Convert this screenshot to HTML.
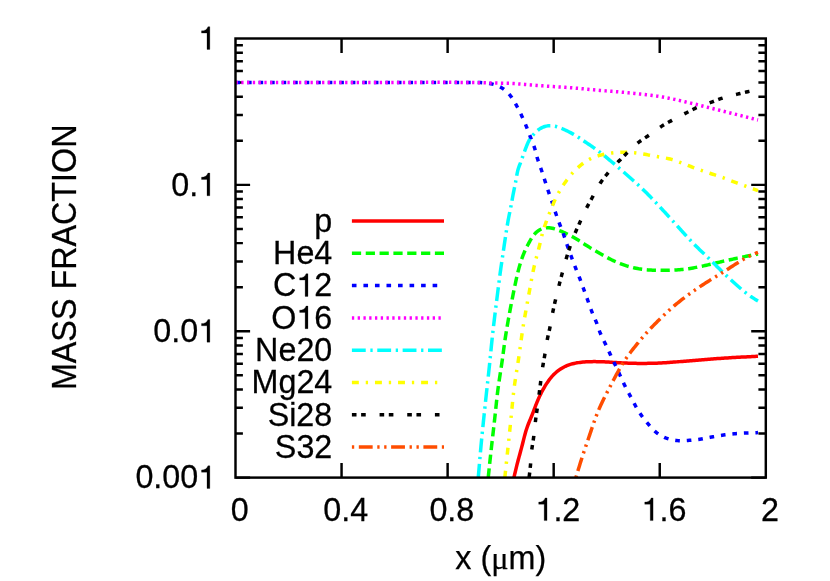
<!DOCTYPE html>
<html><head><meta charset="utf-8"><title>Mass fraction</title>
<style>html,body{margin:0;padding:0;background:#fff;}svg{display:block;font-family:"Liberation Sans",sans-serif;will-change:transform;}text{font-family:"Liberation Sans",sans-serif;font-size:32.30px;fill:#000;stroke:#000;stroke-width:0.25px;}.h{fill:none;stroke:none;}.mu{font-family:"Liberation Serif",serif;}.one{fill:#000;stroke:#000;stroke-width:0.0077;stroke-linejoin:miter;}</style>
</head><body>
<svg width="830" height="581" viewBox="0 0 830 581">
<rect x="0" y="0" width="830" height="581" fill="#ffffff"/>
<defs><clipPath id="pc"><rect x="235.5" y="38.5" width="530.30" height="439.10"/></clipPath></defs>
<path d="M341.56,477.6 v-14.6 M341.56,38.5 v14.6 M447.62,477.6 v-14.6 M447.62,38.5 v14.6 M553.68,477.6 v-14.6 M553.68,38.5 v14.6 M659.74,477.6 v-14.6 M659.74,38.5 v14.6 M235.5,184.87 h14.6 M765.8,184.87 h-14.6 M235.5,140.81 h7.4 M765.8,140.81 h-7.4 M235.5,115.03 h7.4 M765.8,115.03 h-7.4 M235.5,96.75 h7.4 M765.8,96.75 h-7.4 M235.5,82.56 h7.4 M765.8,82.56 h-7.4 M235.5,70.97 h7.4 M765.8,70.97 h-7.4 M235.5,61.17 h7.4 M765.8,61.17 h-7.4 M235.5,52.68 h7.4 M765.8,52.68 h-7.4 M235.5,45.20 h7.4 M765.8,45.20 h-7.4 M235.5,331.23 h14.6 M765.8,331.23 h-14.6 M235.5,287.17 h7.4 M765.8,287.17 h-7.4 M235.5,261.40 h7.4 M765.8,261.40 h-7.4 M235.5,243.11 h7.4 M765.8,243.11 h-7.4 M235.5,228.93 h7.4 M765.8,228.93 h-7.4 M235.5,217.34 h7.4 M765.8,217.34 h-7.4 M235.5,207.54 h7.4 M765.8,207.54 h-7.4 M235.5,199.05 h7.4 M765.8,199.05 h-7.4 M235.5,191.56 h7.4 M765.8,191.56 h-7.4 M235.5,477.60 h14.6 M765.8,477.60 h-14.6 M235.5,433.54 h7.4 M765.8,433.54 h-7.4 M235.5,407.77 h7.4 M765.8,407.77 h-7.4 M235.5,389.48 h7.4 M765.8,389.48 h-7.4 M235.5,375.29 h7.4 M765.8,375.29 h-7.4 M235.5,363.70 h7.4 M765.8,363.70 h-7.4 M235.5,353.91 h7.4 M765.8,353.91 h-7.4 M235.5,345.42 h7.4 M765.8,345.42 h-7.4 M235.5,337.93 h7.4 M765.8,337.93 h-7.4" stroke="#000" stroke-width="2.45" fill="none"/>
<text id="t1" x="216.2" y="49.40" text-anchor="end" transform="matrix(1 0 0 1.022 0 -1.087)"><tspan class="h">1</tspan></text><path class="one" transform="translate(198.24,49.40) scale(32.3,-32.3)" d="M.359,0H.271V.505H.101V.575C.195,.577 .270,.610 .301,.703H.359Z"/>
<text id="t2" x="216.2" y="195.77" text-anchor="end" transform="matrix(1 0 0 1.022 0 -4.307)">0.<tspan class="h">1</tspan></text><path class="one" transform="translate(198.24,195.77) scale(32.3,-32.3)" d="M.359,0H.271V.505H.101V.575C.195,.577 .270,.610 .301,.703H.359Z"/>
<text id="t3" x="216.2" y="342.13" text-anchor="end" transform="matrix(1 0 0 1.022 0 -7.527)">0.0<tspan class="h">1</tspan></text><path class="one" transform="translate(198.24,342.13) scale(32.3,-32.3)" d="M.359,0H.271V.505H.101V.575C.195,.577 .270,.610 .301,.703H.359Z"/>
<text id="t4" x="216.2" y="488.50" text-anchor="end" transform="matrix(1 0 0 1.022 0 -10.747)">0.00<tspan class="h">1</tspan></text><path class="one" transform="translate(198.24,488.50) scale(32.3,-32.3)" d="M.359,0H.271V.505H.101V.575C.195,.577 .270,.610 .301,.703H.359Z"/>
<text id="t5" x="239.70" y="520.6" text-anchor="middle" transform="matrix(1 0 0 1.022 0 -11.453)">0</text>
<text id="t6" x="345.76" y="520.6" text-anchor="middle" transform="matrix(1 0 0 1.022 0 -11.453)">0.4</text>
<text id="t7" x="451.82" y="520.6" text-anchor="middle" transform="matrix(1 0 0 1.022 0 -11.453)">0.8</text>
<text id="t8" x="557.88" y="520.6" text-anchor="middle" transform="matrix(1 0 0 1.022 0 -11.453)"><tspan class="h">1</tspan>.2</text><path class="one" transform="translate(535.43,520.60) scale(32.3,-32.3)" d="M.359,0H.271V.505H.101V.575C.195,.577 .270,.610 .301,.703H.359Z"/>
<text id="t9" x="663.94" y="520.6" text-anchor="middle" transform="matrix(1 0 0 1.022 0 -11.453)"><tspan class="h">1</tspan>.6</text><path class="one" transform="translate(641.49,520.60) scale(32.3,-32.3)" d="M.359,0H.271V.505H.101V.575C.195,.577 .270,.610 .301,.703H.359Z"/>
<text id="t10" x="770.00" y="520.6" text-anchor="middle" transform="matrix(1 0 0 1.022 0 -11.453)">2</text>
<text x="500.8" y="568.7" text-anchor="middle">x (<tspan class="mu">μ</tspan>m)</text>
<text transform="translate(75.9,257.3) rotate(-90) scale(1,1.063)" text-anchor="middle">MASS FRACTION</text>
<g clip-path="url(#pc)" fill="none" stroke-linecap="butt" stroke-linejoin="round">
<path d="M513.93,477.60 L514.03,477.17 L514.37,475.69 L514.71,474.22 L515.06,472.75 L515.40,471.28 L515.75,469.81 L516.11,468.34 L516.47,466.87 L516.83,465.41 L517.20,463.94 L517.58,462.48 L517.96,461.02 L518.35,459.56 L518.74,458.10 L519.13,456.64 L519.53,455.19 L519.93,453.73 L520.33,452.27 L520.72,450.81 L521.12,449.35 L521.51,447.89 L521.89,446.43 L522.27,444.96 L522.64,443.50 L523.01,442.03 L523.37,440.56 L523.74,439.09 L524.12,437.63 L524.50,436.16 L524.89,434.70 L525.29,433.25 L525.71,431.79 L526.15,430.35 L526.60,428.91 L527.08,427.48 L527.58,426.06 L528.11,424.64 L528.66,423.24 L529.22,421.84 L529.80,420.44 L530.38,419.05 L530.97,417.65 L531.55,416.25 L532.12,414.85 L532.68,413.45 L533.22,412.04 L533.76,410.63 L534.30,409.22 L534.83,407.80 L535.37,406.39 L535.91,404.98 L536.47,403.58 L537.03,402.18 L537.62,400.78 L538.21,399.39 L538.82,398.01 L539.45,396.63 L540.09,395.27 L540.75,393.91 L541.43,392.56 L542.12,391.22 L542.84,389.88 L543.58,388.57 L544.33,387.26 L545.11,385.96 L545.91,384.68 L546.73,383.40 L547.57,382.15 L548.44,380.90 L549.33,379.68 L550.26,378.49 L551.21,377.32 L552.21,376.17 L553.23,375.07 L554.30,373.99 L555.41,372.96 L556.55,371.96 L557.72,371.01 L558.94,370.10 L560.18,369.24 L561.46,368.43 L562.77,367.67 L564.11,366.95 L565.47,366.29 L566.86,365.69 L568.26,365.13 L569.69,364.63 L571.14,364.18 L572.60,363.78 L574.07,363.43 L575.55,363.12 L577.04,362.84 L578.53,362.61 L580.03,362.40 L581.53,362.22 L583.03,362.07 L584.54,361.95 L586.05,361.85 L587.56,361.77 L589.07,361.71 L590.58,361.66 L592.09,361.63 L593.60,361.62 L595.11,361.62 L596.62,361.63 L598.13,361.66 L599.65,361.69 L601.16,361.74 L602.67,361.79 L604.18,361.86 L605.69,361.93 L607.19,362.02 L608.70,362.10 L610.21,362.19 L611.72,362.29 L613.23,362.39 L614.73,362.48 L616.24,362.58 L617.75,362.67 L619.26,362.76 L620.77,362.84 L622.27,362.92 L623.78,362.99 L625.29,363.06 L626.80,363.12 L628.31,363.17 L629.82,363.22 L631.33,363.26 L632.84,363.30 L634.36,363.33 L635.87,363.36 L637.38,363.38 L638.89,363.39 L640.40,363.40 L641.91,363.41 L643.42,363.41 L644.93,363.40 L646.44,363.39 L647.96,363.37 L649.47,363.35 L650.98,363.32 L652.49,363.28 L654.00,363.24 L655.51,363.19 L657.02,363.13 L658.53,363.07 L660.04,363.00 L661.54,362.92 L663.05,362.84 L664.56,362.75 L666.07,362.65 L667.58,362.55 L669.08,362.44 L670.59,362.33 L672.10,362.22 L673.60,362.11 L675.11,361.99 L676.62,361.87 L678.12,361.75 L679.63,361.63 L681.14,361.51 L682.64,361.39 L684.15,361.27 L685.65,361.15 L687.16,361.03 L688.67,360.91 L690.17,360.79 L691.68,360.67 L693.18,360.55 L694.69,360.43 L696.20,360.31 L697.70,360.19 L699.21,360.07 L700.71,359.94 L702.22,359.82 L703.72,359.69 L705.23,359.57 L706.74,359.44 L708.24,359.32 L709.75,359.19 L711.25,359.07 L712.76,358.95 L714.27,358.83 L715.77,358.71 L717.28,358.60 L718.79,358.49 L720.29,358.38 L721.80,358.27 L723.31,358.17 L724.81,358.07 L726.32,357.98 L727.83,357.89 L729.34,357.80 L730.85,357.71 L732.35,357.62 L733.86,357.53 L735.37,357.45 L736.88,357.37 L738.39,357.29 L739.90,357.21 L741.41,357.12 L742.92,357.04 L744.42,356.96 L745.93,356.88 L747.44,356.80 L748.95,356.72 L750.46,356.64 L751.97,356.55 L753.48,356.47 L754.98,356.38 L756.49,356.29 L758.00,356.20" stroke="#ff0000" stroke-width="3.5"/>
<path d="M488.24,477.60 L488.30,477.00 L488.45,475.50 L488.60,474.00 L488.76,472.50 L488.91,471.00 L489.07,469.50 L489.22,468.00 L489.38,466.50 L489.53,465.00 L489.69,463.51 L489.85,462.01 L490.01,460.51 L490.17,459.01 L490.33,457.51 L490.49,456.01 L490.66,454.51 L490.82,453.01 L490.98,451.52 L491.15,450.02 L491.32,448.52 L491.49,447.02 L491.65,445.52 L491.82,444.03 L491.99,442.53 L492.16,441.03 L492.34,439.53 L492.51,438.04 L492.68,436.54 L492.85,435.04 L493.03,433.54 L493.20,432.05 L493.37,430.55 L493.54,429.05 L493.71,427.55 L493.88,426.06 L494.05,424.56 L494.22,423.06 L494.39,421.56 L494.56,420.06 L494.72,418.57 L494.88,417.07 L495.05,415.57 L495.21,414.07 L495.37,412.57 L495.52,411.07 L495.68,409.57 L495.84,408.07 L496.00,406.57 L496.15,405.07 L496.31,403.57 L496.48,402.07 L496.64,400.58 L496.80,399.08 L496.97,397.58 L497.14,396.08 L497.32,394.58 L497.49,393.09 L497.68,391.59 L497.86,390.10 L498.05,388.60 L498.25,387.11 L498.45,385.61 L498.66,384.12 L498.87,382.63 L499.09,381.14 L499.31,379.65 L499.54,378.16 L499.77,376.67 L500.00,375.18 L500.23,373.69 L500.46,372.20 L500.69,370.71 L500.92,369.22 L501.15,367.73 L501.37,366.24 L501.60,364.75 L501.82,363.26 L502.03,361.76 L502.25,360.27 L502.45,358.78 L502.66,357.28 L502.86,355.79 L503.06,354.30 L503.26,352.80 L503.46,351.31 L503.65,349.81 L503.85,348.32 L504.05,346.82 L504.25,345.33 L504.46,343.84 L504.67,342.34 L504.88,340.85 L505.09,339.36 L505.31,337.87 L505.54,336.38 L505.77,334.89 L506.00,333.40 L506.24,331.91 L506.49,330.42 L506.73,328.94 L506.98,327.45 L507.23,325.96 L507.49,324.48 L507.75,322.99 L508.01,321.51 L508.27,320.02 L508.54,318.54 L508.81,317.06 L509.08,315.57 L509.35,314.09 L509.62,312.61 L509.90,311.13 L510.17,309.64 L510.45,308.16 L510.73,306.68 L511.02,305.20 L511.30,303.72 L511.58,302.24 L511.87,300.76 L512.16,299.28 L512.45,297.80 L512.74,296.32 L513.03,294.84 L513.32,293.37 L513.62,291.89 L513.92,290.41 L514.22,288.93 L514.52,287.46 L514.82,285.98 L515.13,284.50 L515.44,283.03 L515.75,281.55 L516.07,280.08 L516.40,278.61 L516.73,277.14 L517.07,275.67 L517.42,274.20 L517.77,272.74 L518.14,271.28 L518.52,269.82 L518.90,268.36 L519.30,266.90 L519.71,265.45 L520.14,264.00 L520.58,262.55 L521.03,261.11 L521.50,259.68 L521.99,258.25 L522.50,256.83 L523.03,255.42 L523.58,254.02 L524.16,252.63 L524.75,251.25 L525.37,249.88 L526.01,248.52 L526.67,247.16 L527.35,245.82 L528.04,244.48 L528.76,243.14 L529.48,241.81 L530.22,240.49 L530.99,239.17 L531.78,237.88 L532.62,236.62 L533.51,235.40 L534.46,234.23 L535.48,233.12 L536.58,232.07 L537.76,231.11 L539.01,230.24 L540.33,229.48 L541.71,228.85 L543.14,228.36 L544.62,228.01 L546.12,227.81 L547.64,227.74 L549.16,227.79 L550.68,227.95 L552.17,228.21 L553.64,228.56 L555.09,228.98 L556.52,229.46 L557.93,229.99 L559.34,230.54 L560.74,231.10 L562.13,231.69 L563.51,232.29 L564.89,232.91 L566.25,233.55 L567.61,234.21 L568.96,234.88 L570.29,235.58 L571.62,236.29 L572.94,237.01 L574.25,237.76 L575.56,238.52 L576.85,239.30 L578.14,240.08 L579.41,240.89 L580.68,241.70 L581.95,242.52 L583.21,243.34 L584.48,244.16 L585.75,244.98 L587.02,245.78 L588.29,246.58 L589.58,247.37 L590.87,248.14 L592.17,248.91 L593.47,249.66 L594.78,250.42 L596.09,251.17 L597.40,251.91 L598.71,252.66 L600.02,253.41 L601.32,254.16 L602.63,254.92 L603.94,255.67 L605.25,256.42 L606.56,257.15 L607.88,257.88 L609.21,258.59 L610.55,259.28 L611.90,259.95 L613.26,260.61 L614.63,261.24 L616.00,261.85 L617.39,262.44 L618.79,263.02 L620.19,263.57 L621.60,264.11 L623.02,264.63 L624.45,265.12 L625.89,265.60 L627.33,266.06 L628.78,266.49 L630.23,266.90 L631.69,267.29 L633.16,267.65 L634.63,267.99 L636.10,268.30 L637.58,268.59 L639.07,268.85 L640.56,269.08 L642.05,269.29 L643.54,269.47 L645.04,269.63 L646.54,269.77 L648.05,269.89 L649.55,269.98 L651.06,270.07 L652.57,270.13 L654.08,270.19 L655.59,270.23 L657.10,270.26 L658.61,270.28 L660.12,270.30 L661.63,270.31 L663.14,270.32 L664.65,270.32 L666.16,270.31 L667.67,270.29 L669.18,270.27 L670.68,270.23 L672.19,270.18 L673.69,270.12 L675.20,270.04 L676.70,269.95 L678.21,269.85 L679.71,269.73 L681.21,269.59 L682.70,269.43 L684.20,269.26 L685.70,269.07 L687.19,268.87 L688.68,268.65 L690.17,268.42 L691.66,268.18 L693.15,267.92 L694.64,267.65 L696.12,267.38 L697.60,267.09 L699.08,266.79 L700.56,266.48 L702.03,266.17 L703.51,265.85 L704.98,265.52 L706.45,265.19 L707.92,264.85 L709.39,264.51 L710.85,264.16 L712.32,263.82 L713.79,263.47 L715.25,263.12 L716.72,262.77 L718.19,262.43 L719.65,262.08 L721.12,261.74 L722.59,261.40 L724.06,261.06 L725.53,260.73 L727.00,260.40 L728.47,260.07 L729.94,259.75 L731.42,259.43 L732.89,259.11 L734.36,258.79 L735.84,258.48 L737.31,258.16 L738.79,257.85 L740.26,257.55 L741.74,257.24 L743.22,256.94 L744.69,256.63 L746.17,256.33 L747.65,256.04 L749.13,255.74 L750.60,255.45 L752.08,255.15 L753.56,254.86 L755.04,254.57 L756.52,254.29 L758.00,254.00" stroke="#00ff00" stroke-width="3.5" stroke-dasharray="9.22,4.61"/>
<path d="M235.50,82.50 L237.00,82.50 L238.51,82.50 L240.01,82.51 L241.51,82.51 L243.02,82.51 L244.52,82.51 L246.02,82.51 L247.53,82.51 L249.03,82.51 L250.53,82.52 L252.04,82.52 L253.54,82.52 L255.04,82.52 L256.55,82.52 L258.05,82.52 L259.55,82.52 L261.06,82.52 L262.56,82.52 L264.06,82.52 L265.57,82.52 L267.07,82.52 L268.57,82.52 L270.08,82.52 L271.58,82.52 L273.08,82.52 L274.59,82.52 L276.09,82.52 L277.60,82.52 L279.10,82.52 L280.60,82.51 L282.11,82.51 L283.61,82.51 L285.11,82.51 L286.62,82.51 L288.12,82.51 L289.62,82.51 L291.13,82.51 L292.63,82.51 L294.14,82.51 L295.64,82.50 L297.14,82.50 L298.65,82.50 L300.15,82.50 L301.65,82.50 L303.16,82.50 L304.66,82.50 L306.17,82.49 L307.67,82.49 L309.17,82.49 L310.68,82.49 L312.18,82.49 L313.68,82.49 L315.19,82.49 L316.69,82.48 L318.20,82.48 L319.70,82.48 L321.20,82.48 L322.71,82.48 L324.21,82.48 L325.72,82.48 L327.22,82.47 L328.72,82.47 L330.23,82.47 L331.73,82.47 L333.23,82.47 L334.74,82.47 L336.24,82.47 L337.74,82.47 L339.25,82.46 L340.75,82.46 L342.26,82.46 L343.76,82.46 L345.26,82.46 L346.77,82.46 L348.27,82.46 L349.77,82.46 L351.28,82.46 L352.78,82.46 L354.28,82.46 L355.79,82.46 L357.29,82.46 L358.80,82.46 L360.30,82.46 L361.80,82.46 L363.31,82.46 L364.81,82.46 L366.31,82.46 L367.82,82.46 L369.32,82.46 L370.82,82.46 L372.33,82.46 L373.83,82.46 L375.33,82.46 L376.84,82.46 L378.34,82.47 L379.84,82.47 L381.35,82.47 L382.85,82.47 L384.35,82.47 L385.86,82.47 L387.36,82.48 L388.86,82.48 L390.37,82.48 L391.87,82.48 L393.37,82.49 L394.87,82.49 L396.38,82.49 L397.88,82.50 L399.38,82.50 L400.89,82.50 L402.39,82.51 L403.89,82.51 L405.39,82.51 L406.90,82.52 L408.40,82.52 L409.90,82.53 L411.41,82.53 L412.91,82.53 L414.41,82.54 L415.91,82.54 L417.42,82.55 L418.92,82.55 L420.42,82.56 L421.92,82.56 L423.43,82.56 L424.93,82.57 L426.43,82.57 L427.94,82.57 L429.44,82.58 L430.94,82.58 L432.44,82.58 L433.95,82.58 L435.45,82.59 L436.95,82.59 L438.46,82.59 L439.96,82.59 L441.46,82.59 L442.97,82.59 L444.47,82.59 L445.98,82.59 L447.48,82.59 L448.98,82.59 L450.49,82.58 L451.99,82.58 L453.49,82.58 L455.00,82.57 L456.50,82.57 L458.01,82.56 L459.51,82.56 L461.02,82.55 L462.52,82.55 L464.03,82.54 L465.53,82.53 L467.04,82.52 L468.54,82.51 L470.05,82.50 L471.55,82.49 L473.06,82.48 L474.56,82.48 L476.07,82.48 L477.57,82.50 L479.08,82.54 L480.58,82.59 L482.08,82.67 L483.58,82.77 L485.07,82.90 L486.57,83.06 L488.06,83.26 L489.55,83.50 L491.02,83.78 L492.50,84.12 L493.96,84.51 L495.40,84.96 L496.83,85.46 L498.23,86.03 L499.60,86.67 L500.93,87.37 L502.22,88.14 L503.47,88.98 L504.67,89.89 L505.83,90.86 L506.94,91.89 L508.01,92.96 L509.03,94.08 L510.00,95.24 L510.93,96.43 L511.82,97.65 L512.66,98.90 L513.47,100.17 L514.25,101.45 L515.01,102.75 L515.74,104.07 L516.46,105.39 L517.17,106.72 L517.87,108.05 L518.56,109.39 L519.24,110.73 L519.91,112.07 L520.58,113.42 L521.23,114.77 L521.87,116.13 L522.51,117.50 L523.13,118.87 L523.74,120.24 L524.34,121.62 L524.93,123.00 L525.51,124.39 L526.07,125.78 L526.63,127.18 L527.17,128.58 L527.71,129.99 L528.24,131.39 L528.78,132.80 L529.31,134.20 L529.85,135.61 L530.40,137.01 L530.96,138.40 L531.53,139.80 L532.09,141.19 L532.65,142.59 L533.19,143.99 L533.72,145.40 L534.21,146.82 L534.68,148.25 L535.11,149.69 L535.51,151.14 L535.89,152.59 L536.27,154.05 L536.64,155.50 L537.03,156.96 L537.43,158.41 L537.86,159.85 L538.31,161.28 L538.79,162.70 L539.29,164.12 L539.80,165.54 L540.31,166.95 L540.82,168.37 L541.32,169.79 L541.82,171.21 L542.30,172.63 L542.78,174.06 L543.24,175.49 L543.70,176.92 L544.16,178.35 L544.61,179.78 L545.07,181.22 L545.53,182.65 L545.98,184.08 L546.45,185.51 L546.91,186.94 L547.38,188.37 L547.86,189.80 L548.34,191.22 L548.82,192.64 L549.31,194.07 L549.81,195.49 L550.30,196.90 L550.80,198.32 L551.29,199.74 L551.78,201.17 L552.26,202.59 L552.74,204.02 L553.21,205.45 L553.67,206.88 L554.13,208.31 L554.59,209.74 L555.06,211.17 L555.53,212.59 L556.01,214.02 L556.49,215.44 L556.99,216.86 L557.50,218.28 L558.01,219.69 L558.53,221.10 L559.05,222.51 L559.59,223.92 L560.12,225.32 L560.66,226.73 L561.21,228.13 L561.75,229.53 L562.28,230.94 L562.82,232.34 L563.34,233.75 L563.85,235.17 L564.34,236.59 L564.83,238.01 L565.30,239.44 L565.77,240.86 L566.24,242.29 L566.70,243.72 L567.18,245.15 L567.66,246.57 L568.15,247.99 L568.65,249.41 L569.17,250.83 L569.68,252.24 L570.20,253.65 L570.73,255.06 L571.25,256.47 L571.78,257.88 L572.30,259.28 L572.82,260.69 L573.35,262.10 L573.88,263.51 L574.41,264.92 L574.95,266.32 L575.49,267.72 L576.04,269.12 L576.60,270.52 L577.17,271.91 L577.73,273.30 L578.30,274.70 L578.86,276.09 L579.41,277.49 L579.96,278.89 L580.49,280.30 L581.02,281.70 L581.53,283.12 L582.04,284.53 L582.55,285.95 L583.05,287.36 L583.56,288.78 L584.07,290.19 L584.58,291.61 L585.10,293.02 L585.62,294.43 L586.14,295.84 L586.65,297.25 L587.16,298.67 L587.67,300.08 L588.18,301.50 L588.67,302.92 L589.17,304.34 L589.67,305.76 L590.17,307.18 L590.68,308.59 L591.21,310.00 L591.76,311.40 L592.32,312.79 L592.91,314.17 L593.51,315.55 L594.11,316.93 L594.71,318.31 L595.30,319.69 L595.88,321.08 L596.43,322.48 L596.95,323.89 L597.46,325.31 L597.95,326.73 L598.44,328.15 L598.94,329.57 L599.45,330.98 L599.99,332.38 L600.57,333.77 L601.17,335.15 L601.79,336.51 L602.44,337.87 L603.10,339.23 L603.76,340.58 L604.43,341.93 L605.09,343.28 L605.74,344.63 L606.38,345.99 L607.02,347.35 L607.66,348.72 L608.29,350.08 L608.92,351.45 L609.54,352.81 L610.17,354.18 L610.81,355.54 L611.44,356.91 L612.07,358.27 L612.71,359.63 L613.35,360.99 L613.99,362.35 L614.63,363.71 L615.27,365.07 L615.91,366.43 L616.55,367.79 L617.19,369.15 L617.83,370.51 L618.47,371.88 L619.10,373.24 L619.73,374.61 L620.35,375.98 L620.97,377.35 L621.59,378.72 L622.21,380.09 L622.84,381.45 L623.47,382.82 L624.11,384.18 L624.77,385.53 L625.44,386.87 L626.12,388.21 L626.82,389.54 L627.52,390.87 L628.23,392.20 L628.94,393.52 L629.65,394.85 L630.36,396.18 L631.06,397.51 L631.76,398.84 L632.46,400.17 L633.16,401.50 L633.86,402.83 L634.58,404.15 L635.30,405.47 L636.04,406.78 L636.79,408.08 L637.56,409.38 L638.35,410.66 L639.15,411.94 L639.96,413.20 L640.80,414.45 L641.66,415.68 L642.53,416.90 L643.43,418.11 L644.34,419.30 L645.26,420.49 L646.21,421.66 L647.16,422.82 L648.13,423.98 L649.11,425.12 L650.10,426.26 L651.10,427.39 L652.13,428.50 L653.17,429.58 L654.25,430.63 L655.36,431.64 L656.51,432.61 L657.70,433.53 L658.93,434.39 L660.21,435.20 L661.51,435.96 L662.86,436.66 L664.22,437.30 L665.62,437.89 L667.04,438.41 L668.47,438.88 L669.92,439.29 L671.39,439.65 L672.87,439.95 L674.35,440.20 L675.85,440.40 L677.35,440.55 L678.85,440.65 L680.35,440.71 L681.85,440.72 L683.36,440.71 L684.86,440.66 L686.37,440.58 L687.87,440.48 L689.37,440.37 L690.87,440.24 L692.37,440.10 L693.86,439.95 L695.36,439.78 L696.85,439.60 L698.34,439.40 L699.83,439.18 L701.31,438.95 L702.80,438.70 L704.28,438.44 L705.76,438.18 L707.23,437.90 L708.71,437.62 L710.19,437.34 L711.67,437.06 L713.15,436.79 L714.63,436.52 L716.11,436.26 L717.59,436.01 L719.07,435.76 L720.56,435.52 L722.04,435.29 L723.53,435.07 L725.02,434.85 L726.51,434.65 L728.00,434.45 L729.49,434.27 L730.98,434.09 L732.48,433.93 L733.98,433.78 L735.47,433.64 L736.97,433.52 L738.47,433.42 L739.97,433.32 L741.47,433.24 L742.97,433.16 L744.48,433.10 L745.98,433.04 L747.48,432.98 L748.99,432.93 L750.49,432.88 L751.99,432.83 L753.49,432.78 L755.00,432.72 L756.50,432.66 L758.00,432.60" stroke="#0000ff" stroke-width="3.5" stroke-dasharray="4.61,6.92"/>
<path d="M235.50,82.50 L237.01,82.49 L238.51,82.49 L240.02,82.49 L241.53,82.48 L243.03,82.48 L244.54,82.47 L246.05,82.47 L247.56,82.47 L249.06,82.47 L250.57,82.46 L252.08,82.46 L253.58,82.46 L255.09,82.46 L256.60,82.46 L258.10,82.46 L259.61,82.46 L261.12,82.46 L262.62,82.45 L264.13,82.45 L265.64,82.45 L267.14,82.46 L268.65,82.46 L270.16,82.46 L271.67,82.46 L273.17,82.46 L274.68,82.46 L276.19,82.46 L277.69,82.46 L279.20,82.46 L280.71,82.47 L282.21,82.47 L283.72,82.47 L285.23,82.47 L286.73,82.47 L288.24,82.48 L289.75,82.48 L291.25,82.48 L292.76,82.49 L294.27,82.49 L295.77,82.49 L297.28,82.49 L298.79,82.50 L300.29,82.50 L301.80,82.50 L303.31,82.51 L304.82,82.51 L306.32,82.51 L307.83,82.52 L309.34,82.52 L310.84,82.52 L312.35,82.53 L313.86,82.53 L315.36,82.53 L316.87,82.54 L318.38,82.54 L319.88,82.54 L321.39,82.55 L322.90,82.55 L324.40,82.55 L325.91,82.56 L327.42,82.56 L328.92,82.56 L330.43,82.57 L331.94,82.57 L333.44,82.57 L334.95,82.57 L336.46,82.58 L337.96,82.58 L339.47,82.58 L340.98,82.58 L342.49,82.59 L343.99,82.59 L345.50,82.59 L347.01,82.59 L348.51,82.59 L350.02,82.59 L351.53,82.59 L353.03,82.60 L354.54,82.60 L356.05,82.60 L357.55,82.60 L359.06,82.60 L360.57,82.60 L362.07,82.60 L363.58,82.60 L365.09,82.60 L366.59,82.59 L368.10,82.59 L369.61,82.59 L371.12,82.59 L372.62,82.59 L374.13,82.59 L375.64,82.58 L377.14,82.58 L378.65,82.58 L380.16,82.57 L381.66,82.57 L383.17,82.57 L384.68,82.56 L386.18,82.56 L387.69,82.55 L389.20,82.55 L390.71,82.54 L392.21,82.54 L393.72,82.53 L395.23,82.52 L396.73,82.52 L398.24,82.51 L399.75,82.50 L401.25,82.49 L402.76,82.48 L404.27,82.48 L405.78,82.47 L407.28,82.46 L408.79,82.45 L410.30,82.44 L411.80,82.43 L413.31,82.42 L414.82,82.41 L416.32,82.40 L417.83,82.39 L419.34,82.38 L420.85,82.37 L422.35,82.36 L423.86,82.35 L425.37,82.35 L426.87,82.34 L428.38,82.33 L429.89,82.33 L431.39,82.32 L432.90,82.31 L434.41,82.31 L435.91,82.30 L437.42,82.30 L438.93,82.30 L440.44,82.30 L441.94,82.30 L443.45,82.30 L444.96,82.30 L446.46,82.30 L447.97,82.30 L449.48,82.31 L450.98,82.31 L452.49,82.32 L454.00,82.33 L455.50,82.33 L457.01,82.35 L458.52,82.36 L460.02,82.37 L461.53,82.39 L463.04,82.40 L464.54,82.42 L466.05,82.44 L467.56,82.46 L469.06,82.48 L470.57,82.51 L472.08,82.54 L473.58,82.56 L475.09,82.59 L476.59,82.62 L478.10,82.66 L479.61,82.69 L481.11,82.72 L482.62,82.76 L484.13,82.79 L485.63,82.82 L487.14,82.86 L488.65,82.89 L490.15,82.92 L491.66,82.95 L493.17,82.98 L494.67,83.01 L496.18,83.04 L497.69,83.07 L499.19,83.10 L500.70,83.13 L502.21,83.16 L503.72,83.20 L505.22,83.24 L506.73,83.28 L508.23,83.34 L509.74,83.39 L511.24,83.46 L512.75,83.53 L514.25,83.61 L515.76,83.71 L517.26,83.81 L518.76,83.92 L520.26,84.03 L521.77,84.15 L523.27,84.27 L524.77,84.40 L526.27,84.53 L527.77,84.66 L529.27,84.80 L530.78,84.93 L532.28,85.06 L533.78,85.18 L535.28,85.30 L536.78,85.42 L538.29,85.54 L539.79,85.65 L541.29,85.76 L542.80,85.86 L544.30,85.97 L545.80,86.07 L547.31,86.17 L548.81,86.27 L550.31,86.36 L551.82,86.46 L553.32,86.56 L554.82,86.65 L556.33,86.75 L557.83,86.84 L559.34,86.94 L560.84,87.04 L562.34,87.14 L563.85,87.24 L565.35,87.35 L566.85,87.45 L568.36,87.56 L569.86,87.67 L571.36,87.79 L572.86,87.91 L574.36,88.03 L575.87,88.16 L577.37,88.29 L578.87,88.42 L580.37,88.56 L581.87,88.70 L583.37,88.84 L584.87,88.99 L586.37,89.13 L587.87,89.27 L589.37,89.42 L590.87,89.56 L592.37,89.71 L593.87,89.85 L595.37,89.99 L596.87,90.12 L598.37,90.26 L599.87,90.39 L601.37,90.52 L602.88,90.64 L604.38,90.76 L605.88,90.88 L607.38,91.00 L608.88,91.11 L610.39,91.23 L611.89,91.35 L613.39,91.46 L614.89,91.58 L616.40,91.70 L617.90,91.82 L619.40,91.95 L620.90,92.08 L622.40,92.21 L623.90,92.35 L625.40,92.49 L626.90,92.63 L628.40,92.78 L629.90,92.93 L631.40,93.08 L632.90,93.24 L634.40,93.39 L635.90,93.55 L637.39,93.71 L638.89,93.88 L640.39,94.04 L641.89,94.21 L643.39,94.38 L644.88,94.55 L646.38,94.73 L647.88,94.91 L649.37,95.09 L650.87,95.28 L652.36,95.48 L653.86,95.68 L655.35,95.89 L656.84,96.11 L658.33,96.33 L659.82,96.57 L661.30,96.82 L662.79,97.07 L664.27,97.34 L665.75,97.61 L667.23,97.89 L668.71,98.18 L670.19,98.48 L671.67,98.78 L673.14,99.09 L674.62,99.41 L676.09,99.73 L677.56,100.05 L679.03,100.38 L680.50,100.71 L681.97,101.05 L683.44,101.39 L684.91,101.73 L686.37,102.08 L687.84,102.43 L689.30,102.78 L690.77,103.13 L692.23,103.49 L693.70,103.85 L695.16,104.20 L696.62,104.56 L698.09,104.93 L699.55,105.29 L701.01,105.65 L702.47,106.01 L703.94,106.38 L705.40,106.74 L706.86,107.11 L708.32,107.48 L709.78,107.84 L711.24,108.21 L712.71,108.57 L714.17,108.94 L715.63,109.31 L717.09,109.67 L718.55,110.04 L720.02,110.40 L721.48,110.77 L722.94,111.13 L724.40,111.50 L725.86,111.86 L727.33,112.23 L728.79,112.59 L730.25,112.96 L731.71,113.32 L733.17,113.69 L734.64,114.05 L736.10,114.42 L737.56,114.79 L739.02,115.15 L740.48,115.52 L741.94,115.89 L743.40,116.26 L744.86,116.63 L746.32,117.00 L747.79,117.37 L749.25,117.74 L750.71,118.11 L752.16,118.49 L753.62,118.87 L755.08,119.24 L756.54,119.62 L758.00,120.00" stroke="#ff00ff" stroke-width="3.5" stroke-dasharray="2.31,3.46"/>
<path d="M478.26,477.60 L478.31,477.01 L478.44,475.51 L478.57,474.01 L478.70,472.51 L478.83,471.01 L478.96,469.51 L479.09,468.01 L479.21,466.51 L479.34,465.01 L479.47,463.51 L479.60,462.01 L479.72,460.51 L479.85,459.01 L479.98,457.51 L480.11,456.01 L480.24,454.51 L480.37,453.01 L480.50,451.51 L480.64,450.01 L480.77,448.52 L480.91,447.02 L481.04,445.52 L481.18,444.02 L481.32,442.52 L481.47,441.02 L481.61,439.52 L481.76,438.03 L481.90,436.53 L482.05,435.03 L482.20,433.53 L482.35,432.03 L482.50,430.54 L482.65,429.04 L482.80,427.54 L482.96,426.05 L483.11,424.55 L483.26,423.05 L483.42,421.55 L483.58,420.06 L483.73,418.56 L483.89,417.06 L484.05,415.57 L484.20,414.07 L484.36,412.57 L484.52,411.08 L484.68,409.58 L484.84,408.08 L484.99,406.59 L485.15,405.09 L485.31,403.59 L485.47,402.10 L485.63,400.60 L485.79,399.10 L485.95,397.61 L486.12,396.11 L486.28,394.61 L486.44,393.12 L486.60,391.62 L486.77,390.12 L486.93,388.63 L487.10,387.13 L487.26,385.64 L487.43,384.14 L487.59,382.64 L487.76,381.15 L487.92,379.65 L488.09,378.16 L488.25,376.66 L488.41,375.16 L488.58,373.67 L488.74,372.17 L488.90,370.68 L489.06,369.18 L489.22,367.68 L489.37,366.18 L489.53,364.69 L489.68,363.19 L489.83,361.69 L489.98,360.20 L490.13,358.70 L490.28,357.20 L490.43,355.70 L490.58,354.20 L490.72,352.71 L490.87,351.21 L491.02,349.71 L491.17,348.21 L491.31,346.72 L491.46,345.22 L491.62,343.72 L491.77,342.22 L491.92,340.73 L492.08,339.23 L492.24,337.73 L492.40,336.24 L492.57,334.74 L492.73,333.24 L492.90,331.75 L493.07,330.25 L493.24,328.76 L493.41,327.26 L493.59,325.77 L493.76,324.27 L493.94,322.78 L494.12,321.28 L494.30,319.79 L494.48,318.29 L494.66,316.80 L494.84,315.31 L495.02,313.81 L495.21,312.32 L495.39,310.82 L495.58,309.33 L495.76,307.84 L495.95,306.34 L496.14,304.85 L496.32,303.36 L496.51,301.86 L496.70,300.37 L496.89,298.88 L497.07,297.38 L497.26,295.89 L497.45,294.40 L497.64,292.90 L497.82,291.41 L498.01,289.92 L498.20,288.42 L498.38,286.93 L498.57,285.44 L498.76,283.94 L498.95,282.45 L499.14,280.96 L499.33,279.46 L499.52,277.97 L499.72,276.48 L499.92,274.99 L500.12,273.50 L500.32,272.00 L500.53,270.51 L500.74,269.02 L500.95,267.53 L501.17,266.04 L501.39,264.56 L501.61,263.07 L501.83,261.58 L502.05,260.09 L502.28,258.60 L502.50,257.11 L502.71,255.62 L502.93,254.13 L503.15,252.64 L503.36,251.15 L503.57,249.66 L503.79,248.17 L504.01,246.68 L504.22,245.20 L504.44,243.71 L504.67,242.22 L504.89,240.73 L505.12,239.24 L505.35,237.75 L505.58,236.27 L505.81,234.78 L506.04,233.29 L506.27,231.81 L506.51,230.32 L506.74,228.83 L506.98,227.35 L507.21,225.86 L507.46,224.37 L507.71,222.89 L507.96,221.41 L508.23,219.92 L508.50,218.45 L508.79,216.97 L509.08,215.49 L509.38,214.02 L509.68,212.54 L509.98,211.07 L510.29,209.59 L510.58,208.12 L510.88,206.64 L511.16,205.16 L511.44,203.68 L511.71,202.20 L511.97,200.72 L512.24,199.24 L512.51,197.76 L512.78,196.28 L513.05,194.80 L513.34,193.32 L513.63,191.84 L513.93,190.37 L514.23,188.90 L514.54,187.43 L514.85,185.95 L515.15,184.48 L515.44,183.00 L515.72,181.52 L515.99,180.04 L516.25,178.55 L516.50,177.06 L516.75,175.57 L517.02,174.09 L517.31,172.61 L517.64,171.14 L518.01,169.69 L518.44,168.25 L518.93,166.83 L519.45,165.42 L519.99,164.01 L520.54,162.61 L521.06,161.19 L521.57,159.78 L522.08,158.36 L522.58,156.94 L523.08,155.52 L523.59,154.11 L524.10,152.69 L524.61,151.27 L525.13,149.86 L525.65,148.45 L526.19,147.05 L526.74,145.65 L527.32,144.26 L527.92,142.87 L528.57,141.51 L529.27,140.18 L530.04,138.89 L530.90,137.65 L531.82,136.46 L532.79,135.31 L533.80,134.19 L534.84,133.08 L535.90,132.02 L537.01,130.99 L538.17,130.03 L539.38,129.14 L540.66,128.34 L541.99,127.63 L543.37,127.01 L544.79,126.51 L546.26,126.12 L547.74,125.85 L549.25,125.71 L550.75,125.69 L552.26,125.80 L553.76,126.01 L555.24,126.31 L556.70,126.69 L558.14,127.14 L559.56,127.64 L560.97,128.18 L562.36,128.75 L563.74,129.35 L565.11,129.97 L566.48,130.61 L567.83,131.27 L569.17,131.95 L570.51,132.65 L571.83,133.36 L573.15,134.10 L574.45,134.85 L575.75,135.62 L577.03,136.40 L578.30,137.21 L579.56,138.04 L580.80,138.88 L582.04,139.74 L583.28,140.59 L584.52,141.45 L585.76,142.30 L587.01,143.14 L588.26,143.98 L589.51,144.82 L590.76,145.65 L592.01,146.50 L593.25,147.35 L594.48,148.21 L595.70,149.09 L596.92,149.98 L598.13,150.87 L599.33,151.78 L600.52,152.70 L601.71,153.63 L602.89,154.56 L604.06,155.50 L605.23,156.45 L606.39,157.41 L607.56,158.36 L608.71,159.33 L609.87,160.29 L611.02,161.26 L612.17,162.23 L613.32,163.20 L614.47,164.17 L615.62,165.15 L616.76,166.12 L617.91,167.10 L619.05,168.08 L620.19,169.06 L621.33,170.05 L622.47,171.03 L623.60,172.02 L624.74,173.00 L625.88,173.99 L627.01,174.98 L628.14,175.97 L629.28,176.96 L630.41,177.96 L631.54,178.95 L632.66,179.95 L633.79,180.95 L634.91,181.95 L636.03,182.96 L637.15,183.97 L638.26,184.98 L639.36,186.01 L640.46,187.03 L641.55,188.07 L642.64,189.11 L643.72,190.15 L644.80,191.21 L645.87,192.26 L646.94,193.33 L648.00,194.39 L649.06,195.47 L650.11,196.54 L651.16,197.62 L652.20,198.71 L653.24,199.79 L654.28,200.89 L655.31,201.98 L656.35,203.08 L657.38,204.18 L658.40,205.28 L659.43,206.38 L660.45,207.49 L661.47,208.59 L662.49,209.70 L663.51,210.81 L664.52,211.92 L665.54,213.03 L666.55,214.14 L667.56,215.26 L668.57,216.37 L669.59,217.48 L670.60,218.60 L671.61,219.72 L672.62,220.83 L673.62,221.95 L674.63,223.07 L675.64,224.18 L676.65,225.30 L677.66,226.42 L678.67,227.53 L679.68,228.65 L680.69,229.76 L681.70,230.88 L682.72,231.99 L683.73,233.11 L684.75,234.22 L685.77,235.33 L686.79,236.43 L687.81,237.54 L688.84,238.64 L689.87,239.73 L690.91,240.83 L691.95,241.92 L692.99,243.00 L694.04,244.08 L695.09,245.15 L696.15,246.22 L697.22,247.29 L698.29,248.34 L699.37,249.39 L700.45,250.43 L701.54,251.47 L702.64,252.50 L703.74,253.53 L704.84,254.56 L705.94,255.59 L707.03,256.62 L708.12,257.66 L709.21,258.70 L710.28,259.75 L711.35,260.81 L712.42,261.87 L713.48,262.94 L714.54,264.01 L715.60,265.08 L716.66,266.15 L717.71,267.22 L718.78,268.29 L719.85,269.35 L720.92,270.40 L722.00,271.45 L723.08,272.50 L724.17,273.54 L725.26,274.57 L726.36,275.60 L727.46,276.63 L728.56,277.66 L729.66,278.68 L730.76,279.71 L731.87,280.73 L732.98,281.75 L734.09,282.76 L735.21,283.77 L736.33,284.78 L737.45,285.78 L738.58,286.77 L739.72,287.76 L740.86,288.73 L742.01,289.70 L743.17,290.66 L744.34,291.60 L745.52,292.53 L746.71,293.45 L747.91,294.36 L749.13,295.25 L750.35,296.13 L751.59,296.98 L752.84,297.83 L754.11,298.65 L755.39,299.45 L756.69,300.24 L758.00,301.00" stroke="#00ffff" stroke-width="3.5" stroke-dasharray="13.84,4.61,2.31,4.61"/>
<path d="M504.84,477.60 L504.90,477.01 L505.05,475.51 L505.21,474.01 L505.36,472.51 L505.52,471.01 L505.67,469.51 L505.83,468.01 L505.99,466.52 L506.15,465.02 L506.31,463.52 L506.47,462.02 L506.63,460.52 L506.79,459.03 L506.95,457.53 L507.11,456.03 L507.27,454.53 L507.43,453.03 L507.59,451.53 L507.75,450.04 L507.91,448.54 L508.07,447.04 L508.23,445.54 L508.39,444.04 L508.54,442.55 L508.70,441.05 L508.86,439.55 L509.01,438.05 L509.16,436.55 L509.32,435.05 L509.47,433.55 L509.62,432.06 L509.77,430.56 L509.93,429.06 L510.08,427.56 L510.23,426.06 L510.37,424.56 L510.52,423.06 L510.67,421.56 L510.82,420.06 L510.96,418.56 L511.11,417.06 L511.26,415.56 L511.40,414.06 L511.55,412.56 L511.69,411.06 L511.83,409.56 L511.98,408.06 L512.12,406.56 L512.27,405.06 L512.42,403.56 L512.57,402.06 L512.72,400.57 L512.87,399.07 L513.03,397.57 L513.19,396.07 L513.35,394.57 L513.52,393.08 L513.70,391.58 L513.88,390.08 L514.06,388.59 L514.26,387.10 L514.45,385.60 L514.66,384.11 L514.87,382.62 L515.09,381.13 L515.31,379.64 L515.53,378.15 L515.76,376.66 L515.99,375.17 L516.23,373.68 L516.47,372.19 L516.70,370.71 L516.94,369.22 L517.18,367.73 L517.42,366.24 L517.66,364.76 L517.89,363.27 L518.13,361.78 L518.36,360.29 L518.59,358.80 L518.81,357.31 L519.03,355.82 L519.24,354.33 L519.45,352.84 L519.65,351.34 L519.86,349.85 L520.06,348.36 L520.25,346.86 L520.45,345.37 L520.65,343.88 L520.85,342.38 L521.04,340.89 L521.25,339.40 L521.45,337.90 L521.66,336.41 L521.87,334.92 L522.08,333.43 L522.30,331.94 L522.53,330.45 L522.76,328.96 L523.00,327.47 L523.24,325.98 L523.48,324.50 L523.73,323.01 L523.98,321.53 L524.23,320.04 L524.48,318.55 L524.74,317.07 L525.00,315.59 L525.27,314.10 L525.53,312.62 L525.80,311.14 L526.06,309.65 L526.33,308.17 L526.60,306.69 L526.87,305.21 L527.14,303.72 L527.41,302.24 L527.68,300.76 L527.95,299.28 L528.22,297.80 L528.49,296.31 L528.76,294.83 L529.03,293.35 L529.30,291.87 L529.57,290.38 L529.84,288.90 L530.10,287.42 L530.37,285.94 L530.64,284.45 L530.90,282.97 L531.17,281.49 L531.44,280.00 L531.71,278.52 L531.99,277.04 L532.28,275.56 L532.56,274.08 L532.86,272.61 L533.16,271.13 L533.47,269.66 L533.79,268.18 L534.12,266.71 L534.46,265.25 L534.80,263.78 L535.16,262.31 L535.52,260.85 L535.89,259.39 L536.26,257.93 L536.64,256.47 L537.03,255.02 L537.43,253.56 L537.82,252.11 L538.21,250.65 L538.59,249.20 L538.97,247.74 L539.33,246.28 L539.69,244.81 L540.03,243.34 L540.36,241.88 L540.70,240.41 L541.04,238.94 L541.38,237.47 L541.74,236.01 L542.12,234.55 L542.51,233.10 L542.93,231.65 L543.36,230.20 L543.80,228.76 L544.27,227.33 L544.74,225.90 L545.23,224.47 L545.74,223.05 L546.25,221.64 L546.78,220.22 L547.31,218.81 L547.84,217.41 L548.39,216.00 L548.93,214.60 L549.48,213.19 L550.03,211.79 L550.58,210.39 L551.13,208.99 L551.69,207.59 L552.26,206.19 L552.84,204.80 L553.42,203.41 L554.02,202.03 L554.64,200.65 L555.27,199.28 L555.91,197.92 L556.58,196.57 L557.26,195.22 L557.96,193.89 L558.68,192.57 L559.43,191.26 L560.19,189.96 L560.97,188.67 L561.78,187.40 L562.60,186.13 L563.43,184.88 L564.28,183.63 L565.14,182.39 L566.02,181.16 L566.91,179.95 L567.81,178.74 L568.73,177.54 L569.67,176.36 L570.62,175.20 L571.60,174.05 L572.60,172.93 L573.63,171.82 L574.67,170.74 L575.74,169.68 L576.83,168.63 L577.94,167.61 L579.07,166.61 L580.22,165.64 L581.40,164.68 L582.59,163.75 L583.80,162.84 L585.03,161.97 L586.29,161.14 L587.57,160.34 L588.88,159.59 L590.21,158.89 L591.57,158.25 L592.95,157.65 L594.36,157.10 L595.78,156.59 L597.21,156.12 L598.66,155.68 L600.12,155.27 L601.58,154.88 L603.04,154.52 L604.51,154.19 L605.99,153.88 L607.47,153.60 L608.95,153.34 L610.44,153.11 L611.94,152.91 L613.43,152.73 L614.93,152.58 L616.43,152.46 L617.94,152.36 L619.44,152.28 L620.95,152.23 L622.46,152.20 L623.97,152.19 L625.48,152.21 L626.98,152.24 L628.49,152.30 L630.00,152.37 L631.50,152.47 L633.00,152.59 L634.50,152.73 L636.00,152.90 L637.49,153.09 L638.99,153.30 L640.48,153.52 L641.96,153.77 L643.45,154.03 L644.93,154.30 L646.41,154.58 L647.89,154.87 L649.37,155.16 L650.84,155.45 L652.32,155.75 L653.80,156.03 L655.28,156.31 L656.76,156.58 L658.25,156.84 L659.74,157.09 L661.23,157.32 L662.72,157.56 L664.21,157.81 L665.69,158.07 L667.17,158.35 L668.64,158.67 L670.10,159.03 L671.55,159.43 L672.99,159.87 L674.42,160.34 L675.84,160.84 L677.26,161.36 L678.67,161.89 L680.08,162.43 L681.49,162.97 L682.90,163.52 L684.30,164.06 L685.71,164.60 L687.11,165.14 L688.52,165.68 L689.93,166.22 L691.34,166.75 L692.75,167.28 L694.16,167.80 L695.57,168.32 L696.99,168.84 L698.40,169.35 L699.82,169.85 L701.24,170.35 L702.67,170.85 L704.09,171.35 L705.52,171.83 L706.94,172.32 L708.37,172.80 L709.80,173.28 L711.23,173.75 L712.67,174.22 L714.10,174.68 L715.53,175.15 L716.97,175.61 L718.40,176.08 L719.83,176.56 L721.25,177.04 L722.68,177.53 L724.10,178.03 L725.51,178.55 L726.92,179.08 L728.33,179.62 L729.73,180.16 L731.14,180.71 L732.54,181.26 L733.95,181.81 L735.35,182.35 L736.76,182.89 L738.17,183.42 L739.58,183.95 L740.99,184.47 L742.41,184.99 L743.82,185.50 L745.24,186.01 L746.66,186.52 L748.08,187.03 L749.50,187.53 L750.92,188.04 L752.33,188.55 L753.75,189.06 L755.17,189.57 L756.59,190.08 L758.00,190.60" stroke="#ffff00" stroke-width="3.5" stroke-dasharray="6.92,6.92,2.31,6.92"/>
<path d="M529.11,477.60 L529.17,476.99 L529.34,475.49 L529.52,474.00 L529.69,472.50 L529.87,471.00 L530.04,469.51 L530.20,468.01 L530.35,466.51 L530.49,465.01 L530.62,463.51 L530.74,462.00 L530.85,460.50 L530.96,459.00 L531.07,457.49 L531.19,455.99 L531.31,454.49 L531.44,452.99 L531.59,451.49 L531.75,449.99 L531.93,448.49 L532.14,447.00 L532.36,445.51 L532.60,444.02 L532.84,442.54 L533.08,441.05 L533.32,439.56 L533.53,438.07 L533.74,436.57 L533.93,435.08 L534.11,433.58 L534.28,432.09 L534.44,430.59 L534.60,429.09 L534.76,427.59 L534.91,426.09 L535.07,424.59 L535.24,423.09 L535.41,421.60 L535.59,420.10 L535.78,418.61 L535.98,417.11 L536.19,415.62 L536.40,414.13 L536.62,412.64 L536.83,411.15 L537.05,409.65 L537.26,408.16 L537.47,406.67 L537.68,405.18 L537.88,403.68 L538.08,402.19 L538.28,400.70 L538.48,399.20 L538.67,397.71 L538.86,396.21 L539.05,394.72 L539.24,393.22 L539.43,391.73 L539.62,390.23 L539.81,388.74 L540.00,387.24 L540.18,385.75 L540.37,384.25 L540.55,382.76 L540.74,381.26 L540.92,379.76 L541.11,378.27 L541.30,376.77 L541.49,375.28 L541.69,373.78 L541.89,372.29 L542.10,370.80 L542.32,369.31 L542.54,367.82 L542.78,366.33 L543.03,364.84 L543.28,363.36 L543.55,361.88 L543.82,360.39 L544.09,358.91 L544.35,357.43 L544.61,355.94 L544.86,354.46 L545.10,352.97 L545.33,351.48 L545.56,349.99 L545.79,348.50 L546.02,347.01 L546.26,345.52 L546.50,344.03 L546.75,342.55 L547.01,341.06 L547.29,339.58 L547.58,338.10 L547.89,336.63 L548.21,335.16 L548.55,333.69 L548.88,332.22 L549.22,330.75 L549.54,329.28 L549.85,327.80 L550.15,326.33 L550.44,324.85 L550.71,323.37 L550.99,321.88 L551.25,320.40 L551.52,318.92 L551.79,317.43 L552.05,315.95 L552.33,314.47 L552.61,312.99 L552.90,311.51 L553.20,310.03 L553.51,308.56 L553.83,307.09 L554.16,305.62 L554.50,304.15 L554.84,302.68 L555.19,301.21 L555.53,299.74 L555.88,298.28 L556.23,296.81 L556.58,295.35 L556.94,293.88 L557.30,292.42 L557.66,290.96 L558.02,289.49 L558.38,288.03 L558.75,286.57 L559.12,285.11 L559.49,283.65 L559.86,282.19 L560.24,280.73 L560.62,279.27 L561.00,277.81 L561.38,276.36 L561.76,274.90 L562.15,273.44 L562.53,271.98 L562.92,270.53 L563.31,269.07 L563.70,267.61 L564.10,266.16 L564.50,264.71 L564.90,263.26 L565.31,261.81 L565.73,260.36 L566.15,258.91 L566.58,257.47 L567.02,256.03 L567.46,254.59 L567.92,253.15 L568.38,251.71 L568.84,250.28 L569.32,248.85 L569.80,247.42 L570.28,245.99 L570.77,244.57 L571.27,243.15 L571.78,241.73 L572.30,240.31 L572.82,238.90 L573.36,237.49 L573.91,236.08 L574.46,234.68 L575.03,233.29 L575.62,231.90 L576.21,230.51 L576.82,229.14 L577.43,227.76 L578.05,226.39 L578.68,225.02 L579.31,223.65 L579.93,222.27 L580.55,220.90 L581.17,219.52 L581.79,218.15 L582.41,216.77 L583.03,215.40 L583.66,214.03 L584.30,212.67 L584.95,211.31 L585.60,209.95 L586.27,208.60 L586.95,207.26 L587.65,205.92 L588.36,204.60 L589.09,203.27 L589.82,201.96 L590.55,200.64 L591.28,199.32 L592.00,198.00 L592.72,196.67 L593.42,195.33 L594.13,194.00 L594.83,192.67 L595.54,191.33 L596.26,190.01 L596.98,188.68 L597.72,187.37 L598.48,186.07 L599.26,184.78 L600.06,183.51 L600.89,182.25 L601.74,181.01 L602.62,179.79 L603.52,178.58 L604.43,177.38 L605.37,176.19 L606.32,175.02 L607.28,173.86 L608.25,172.70 L609.23,171.56 L610.23,170.42 L611.22,169.29 L612.23,168.17 L613.25,167.05 L614.27,165.94 L615.30,164.84 L616.33,163.75 L617.38,162.66 L618.43,161.58 L619.48,160.51 L620.54,159.44 L621.61,158.38 L622.68,157.31 L623.74,156.25 L624.81,155.19 L625.88,154.12 L626.94,153.05 L628.01,151.98 L629.08,150.90 L630.15,149.84 L631.23,148.78 L632.31,147.73 L633.41,146.70 L634.53,145.68 L635.66,144.69 L636.81,143.72 L637.98,142.78 L639.18,141.87 L640.40,140.99 L641.64,140.14 L642.89,139.30 L644.16,138.48 L645.42,137.65 L646.68,136.82 L647.92,135.97 L649.16,135.10 L650.39,134.23 L651.61,133.34 L652.82,132.45 L654.04,131.56 L655.26,130.67 L656.48,129.78 L657.70,128.90 L658.93,128.04 L660.18,127.19 L661.43,126.36 L662.71,125.56 L663.99,124.77 L665.29,124.01 L666.60,123.26 L667.92,122.53 L669.24,121.81 L670.57,121.09 L671.90,120.38 L673.23,119.68 L674.57,118.98 L675.90,118.28 L677.24,117.59 L678.57,116.89 L679.91,116.20 L681.25,115.50 L682.58,114.80 L683.92,114.10 L685.25,113.40 L686.58,112.69 L687.91,111.98 L689.25,111.27 L690.58,110.57 L691.92,109.88 L693.27,109.21 L694.63,108.57 L696.00,107.95 L697.39,107.36 L698.78,106.80 L700.19,106.25 L701.60,105.72 L703.01,105.21 L704.43,104.70 L705.86,104.20 L707.28,103.70 L708.70,103.20 L710.12,102.69 L711.54,102.17 L712.95,101.64 L714.36,101.10 L715.77,100.55 L717.17,100.01 L718.58,99.47 L719.99,98.95 L721.42,98.46 L722.84,97.99 L724.28,97.54 L725.72,97.11 L727.17,96.70 L728.63,96.30 L730.09,95.92 L731.55,95.55 L733.02,95.19 L734.48,94.84 L735.95,94.49 L737.42,94.14 L738.89,93.79 L740.35,93.44 L741.82,93.09 L743.29,92.74 L744.75,92.39 L746.22,92.04 L747.68,91.70 L749.15,91.37 L750.62,91.03 L752.09,90.71 L753.57,90.39 L755.04,90.09 L756.52,89.79 L758.00,89.50" stroke="#000000" stroke-width="3.5" stroke-dasharray="4.61,4.61,4.61,13.84" stroke-dashoffset="-0.5"/>
<path d="M575.93,477.60 L576.02,477.30 L576.44,475.85 L576.87,474.40 L577.30,472.95 L577.73,471.50 L578.16,470.06 L578.60,468.61 L579.04,467.17 L579.48,465.72 L579.92,464.28 L580.37,462.84 L580.82,461.39 L581.28,459.95 L581.73,458.52 L582.20,457.08 L582.66,455.64 L583.13,454.21 L583.61,452.77 L584.08,451.34 L584.57,449.91 L585.05,448.48 L585.54,447.05 L586.02,445.62 L586.51,444.19 L587.00,442.76 L587.49,441.33 L587.98,439.90 L588.46,438.47 L588.95,437.04 L589.43,435.61 L589.91,434.18 L590.39,432.75 L590.87,431.32 L591.34,429.88 L591.82,428.45 L592.31,427.02 L592.79,425.59 L593.29,424.16 L593.78,422.74 L594.29,421.31 L594.80,419.89 L595.32,418.48 L595.85,417.06 L596.39,415.65 L596.94,414.24 L597.50,412.84 L598.06,411.44 L598.64,410.04 L599.23,408.65 L599.84,407.27 L600.45,405.89 L601.08,404.51 L601.71,403.15 L602.36,401.78 L603.01,400.42 L603.68,399.07 L604.35,397.71 L605.03,396.36 L605.71,395.02 L606.40,393.67 L607.10,392.33 L607.79,390.99 L608.49,389.65 L609.19,388.31 L609.89,386.97 L610.59,385.63 L611.29,384.30 L611.99,382.96 L612.69,381.62 L613.39,380.28 L614.09,378.95 L614.80,377.61 L615.51,376.28 L616.23,374.95 L616.95,373.62 L617.68,372.30 L618.41,370.98 L619.15,369.66 L619.91,368.35 L620.67,367.05 L621.44,365.75 L622.22,364.46 L623.02,363.17 L623.82,361.89 L624.64,360.62 L625.47,359.36 L626.32,358.11 L627.18,356.88 L628.06,355.65 L628.95,354.43 L629.85,353.22 L630.76,352.01 L631.68,350.81 L632.61,349.62 L633.55,348.44 L634.49,347.25 L635.43,346.07 L636.38,344.90 L637.33,343.72 L638.29,342.55 L639.25,341.38 L640.21,340.22 L641.17,339.06 L642.15,337.90 L643.12,336.75 L644.11,335.60 L645.10,334.46 L646.10,333.33 L647.10,332.21 L648.12,331.09 L649.14,329.98 L650.18,328.88 L651.22,327.79 L652.27,326.70 L653.32,325.62 L654.38,324.55 L655.45,323.48 L656.52,322.41 L657.60,321.35 L658.68,320.29 L659.76,319.24 L660.84,318.18 L661.92,317.13 L663.01,316.08 L664.10,315.04 L665.19,313.99 L666.29,312.96 L667.39,311.92 L668.50,310.90 L669.62,309.88 L670.74,308.87 L671.86,307.86 L673.00,306.87 L674.14,305.88 L675.29,304.90 L676.45,303.94 L677.62,302.98 L678.79,302.03 L679.97,301.09 L681.16,300.15 L682.36,299.23 L683.56,298.31 L684.76,297.40 L685.97,296.49 L687.19,295.60 L688.41,294.70 L689.63,293.82 L690.86,292.94 L692.09,292.06 L693.32,291.19 L694.56,290.33 L695.80,289.47 L697.05,288.62 L698.30,287.77 L699.55,286.93 L700.81,286.09 L702.07,285.26 L703.33,284.43 L704.60,283.61 L705.87,282.80 L707.15,281.98 L708.42,281.18 L709.70,280.37 L710.98,279.57 L712.27,278.78 L713.55,277.98 L714.83,277.19 L716.12,276.39 L717.40,275.60 L718.69,274.81 L719.97,274.02 L721.26,273.22 L722.54,272.43 L723.82,271.63 L725.10,270.83 L726.38,270.02 L727.66,269.22 L728.93,268.41 L730.21,267.59 L731.48,266.78 L732.75,265.96 L734.02,265.14 L735.29,264.33 L736.57,263.53 L737.85,262.72 L739.13,261.93 L740.42,261.14 L741.72,260.37 L743.02,259.61 L744.32,258.85 L745.64,258.12 L746.97,257.40 L748.30,256.70 L749.65,256.01 L751.01,255.35 L752.38,254.71 L753.76,254.09 L755.16,253.50 L756.57,252.94 L758.00,252.40" stroke="#ff4d00" stroke-width="3.5" stroke-dasharray="2.31,4.61,13.84,4.61,2.31,4.61"/>
</g>
<rect x="235.5" y="38.5" width="530.30" height="439.10" fill="none" stroke="#000" stroke-width="2.45"/>
<text id="t11" x="332.3" y="231.80" text-anchor="end" transform="matrix(1 0 0 1.03 0 -6.954)">p</text>
<path d="M351.9,221.00 H444.0" stroke="#ff0000" stroke-width="3.5" fill="none"/>
<text id="t12" x="332.3" y="264.10" text-anchor="end" transform="matrix(1 0 0 1.03 0 -7.923)">He4</text>
<path d="M351.9,253.30 H444.0" stroke="#00ff00" stroke-width="3.5" fill="none" stroke-dasharray="9.22,4.61"/>
<text id="t13" x="332.3" y="296.40" text-anchor="end" transform="matrix(1 0 0 1.03 0 -8.892)">C<tspan class="h">1</tspan>2</text><path class="one" transform="translate(296.37,296.40) scale(32.3,-32.3)" d="M.359,0H.271V.505H.101V.575C.195,.577 .270,.610 .301,.703H.359Z"/>
<path d="M351.9,285.60 H444.0" stroke="#0000ff" stroke-width="3.5" fill="none" stroke-dasharray="4.61,6.92"/>
<text id="t14" x="332.3" y="328.70" text-anchor="end" transform="matrix(1 0 0 1.03 0 -9.861)">O<tspan class="h">1</tspan>6</text><path class="one" transform="translate(296.37,328.70) scale(32.3,-32.3)" d="M.359,0H.271V.505H.101V.575C.195,.577 .270,.610 .301,.703H.359Z"/>
<path d="M351.9,317.90 H444.0" stroke="#ff00ff" stroke-width="3.5" fill="none" stroke-dasharray="2.31,3.46"/>
<text id="t15" x="332.3" y="361.00" text-anchor="end" transform="matrix(1 0 0 1.03 0 -10.830)">Ne20</text>
<path d="M351.9,350.20 H444.0" stroke="#00ffff" stroke-width="3.5" fill="none" stroke-dasharray="13.84,4.61,2.31,4.61"/>
<text id="t16" x="332.3" y="393.30" text-anchor="end" transform="matrix(1 0 0 1.03 0 -11.799)">Mg24</text>
<path d="M351.9,382.50 H444.0" stroke="#ffff00" stroke-width="3.5" fill="none" stroke-dasharray="6.92,6.92,2.31,6.92"/>
<text id="t17" x="332.3" y="425.60" text-anchor="end" transform="matrix(1 0 0 1.03 0 -12.768)">Si28</text>
<path d="M351.9,414.80 H444.0" stroke="#000000" stroke-width="3.5" fill="none" stroke-dasharray="4.61,4.61,4.61,13.84"/>
<text id="t18" x="332.3" y="457.90" text-anchor="end" transform="matrix(1 0 0 1.03 0 -13.737)">S32</text>
<path d="M351.9,447.10 H444.0" stroke="#ff4d00" stroke-width="3.5" fill="none" stroke-dasharray="2.31,4.61,13.84,4.61,2.31,4.61"/>
</svg>
</body></html>
